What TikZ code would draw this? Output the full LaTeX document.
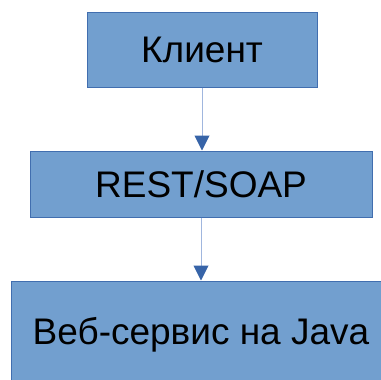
\documentclass[tikz,border=0pt]{standalone}
\usepackage{fontspec}
\setmainfont{Liberation Sans}
\usetikzlibrary{arrows.meta}
\definecolor{boxfill}{RGB}{114,159,207}
\definecolor{boxline}{RGB}{65,110,175}
\definecolor{linklight}{RGB}{160,182,222}
\definecolor{tipdark}{RGB}{55,100,168}
\begin{document}
\begin{tikzpicture}[x=1pt,y=-1pt,
	block/.style={draw=boxline, line width=1pt, fill=boxfill, inner sep=0pt,
		font=\fontsize{37}{44}\selectfont},
	link/.style={draw=linklight, line width=1pt,
		-{Triangle[color=tipdark, width=15pt, length=15pt]}}]
	\useasboundingbox (0,0) rectangle (381,380);
	\node[block, minimum width=230pt, minimum height=75pt] (client) at (202,49.5) {Клиент};
	\node[block, minimum width=342pt, minimum height=66pt] (proto) at (201,184) {REST/SOAP};
	\node[block, minimum width=380pt, minimum height=108pt] (service) at (201,335) {Веб-сервис на Java};
	
	\draw[link] (client.south) -- (client.south |- proto.north);
	\draw[link] (proto.south) -- (proto.south |- service.north);
\end{tikzpicture}
\end{document}
